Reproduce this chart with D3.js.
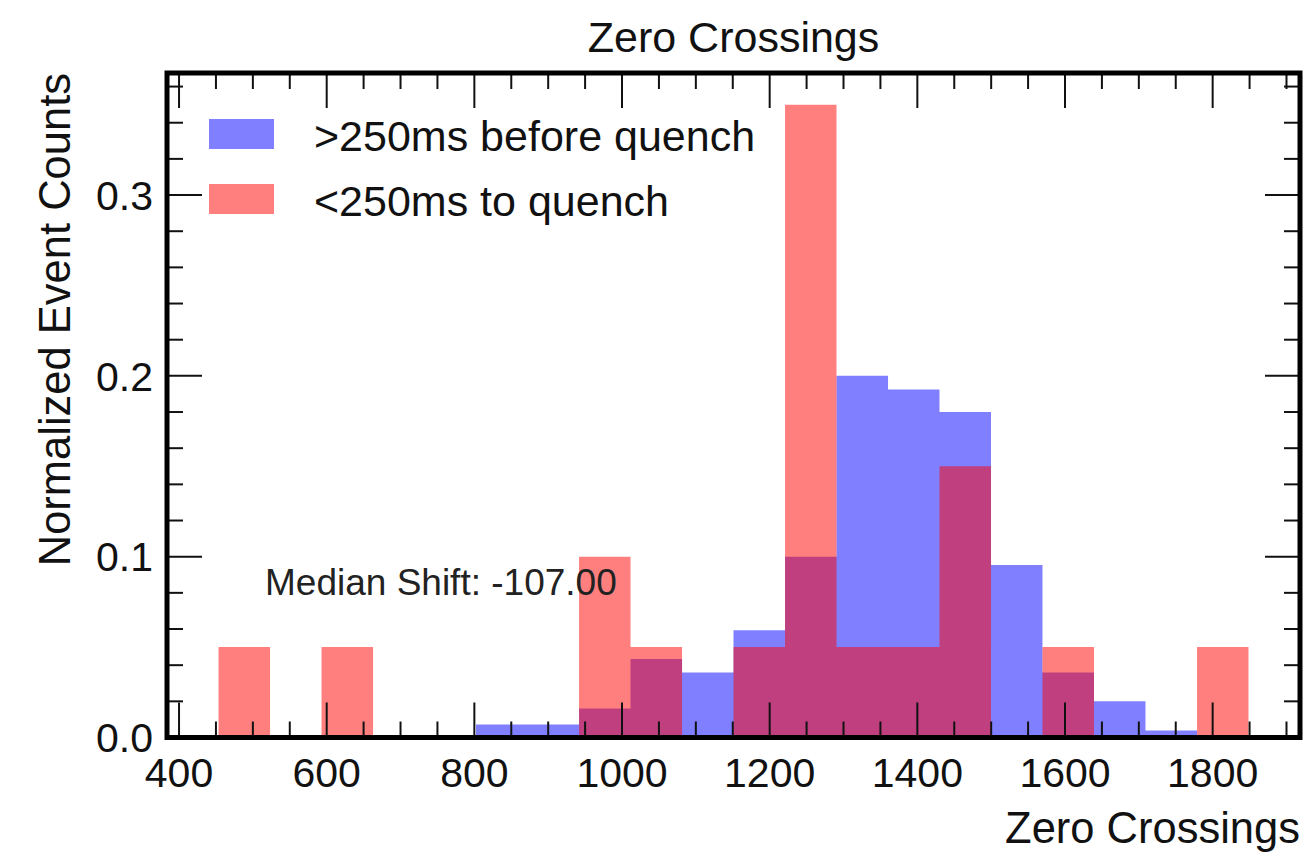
<!DOCTYPE html>
<html>
<head>
<meta charset="utf-8">
<script src="https://cdn.jsdelivr.net/npm/d3@7"></script>
<style>
  html, body { margin: 0; padding: 0; background: #fff; }
  svg { display: block; font-family: "Liberation Sans", Arial, Helvetica, sans-serif; }
</style>
</head>
<body>
<svg id="chart" width="1311" height="856"></svg>
<script>
// ---- data ----
const binEdges = [453.5, 523.3, 593, 662.8, 732.5, 802.3, 872, 941.8, 1011.5, 1081.3, 1151,
                  1220.8, 1290.5, 1360.3, 1430, 1499.8, 1569.5, 1639.3, 1709, 1778.8, 1848.5];
const blueValues = [0, 0, 0, 0, 0, 0.0072, 0.0072, 0.016, 0.0434, 0.036, 0.0593,
                    0.1, 0.2, 0.1925, 0.18, 0.0954, 0.036, 0.02, 0.0039, 0];
const redValues  = [0.05, 0, 0.05, 0, 0, 0, 0, 0.1, 0.05, 0, 0.05,
                    0.35, 0.05, 0.05, 0.15, 0, 0.05, 0, 0, 0.05];
const seriesNames = [">250ms before quench", "<250ms to quench"];
const xMajorTicks = [400, 600, 800, 1000, 1200, 1400, 1600, 1800];
const yMajorTicks = [0.0, 0.1, 0.2, 0.3];
const xDomain = [383.7, 1918.3];
const yDomain = [0, 0.3675];
const titleText = "Zero Crossings";
const xLabel = "Zero Crossings";
const yLabel = "Normalized Event Counts";
const annotation = "Median Shift: -107.00";

// ---- layout ----
const L = 167, R = 1300, T = 73, B = 737.5;
const svg = d3.select("#chart");
const x = d3.scaleLinear().domain(xDomain).range([L, R]);
const y = d3.scaleLinear().domain(yDomain).range([B, T]);

const blueFill = "rgba(0,0,255,0.5)";
const redFill = "rgba(255,0,0,0.5)";

// each series as one path of bin rectangles (no seams between adjacent bins)
function bars(values, fill) {
  const p = d3.path();
  values.forEach((v, i) => {
    if (v > 0) {
      const x0 = x(binEdges[i]), x1 = x(binEdges[i + 1]);
      p.rect(x0, y(v), x1 - x0, y(0) - y(v));
    }
  });
  svg.append("path").attr("d", p.toString()).attr("fill", fill);
}
bars(blueValues, blueFill);
bars(redValues, redFill);

// annotation
svg.append("text").attr("x", 265).attr("y", 595)
  .attr("font-size", 37).attr("fill", "#222").text(annotation);

// ---- ticks (inward, all four sides) ----
const majLen = 35, minLen = 16;
const xMinor = d3.range(400, 1901, 50).filter(v => !xMajorTicks.includes(v) && v > xDomain[0] && v < xDomain[1]);
const yMinor = d3.range(0, 37).map(i => +(i * 0.01).toFixed(2)).filter(v => (Math.round(v * 100) % 2 === 0) && (Math.round(v * 100) % 10 !== 0) && v < yDomain[1]);

const tg = svg.append("g").attr("stroke", "#111").attr("stroke-width", 2);
function xTicks(vals, len) {
  vals.forEach(v => {
    tg.append("line").attr("x1", x(v)).attr("x2", x(v)).attr("y1", B).attr("y2", B - len);
    tg.append("line").attr("x1", x(v)).attr("x2", x(v)).attr("y1", T).attr("y2", T + len);
  });
}
function yTicks(vals, len) {
  vals.forEach(v => {
    tg.append("line").attr("y1", y(v)).attr("y2", y(v)).attr("x1", L).attr("x2", L + len);
    tg.append("line").attr("y1", y(v)).attr("y2", y(v)).attr("x1", R).attr("x2", R - len);
  });
}
xTicks(xMajorTicks, majLen);
xTicks(xMinor, minLen);
yTicks(yMajorTicks, majLen);
yTicks(yMinor, minLen);

// frame
svg.append("rect").attr("x", L).attr("y", T).attr("width", R - L).attr("height", B - T)
  .attr("fill", "none").attr("stroke", "#000").attr("stroke-width", 5);

// tick labels
svg.append("g").selectAll("text").data(xMajorTicks).join("text")
  .attr("x", d => x(d)).attr("y", 787).attr("text-anchor", "middle")
  .attr("font-size", 41).attr("fill", "#111").text(d => d);
svg.append("g").selectAll("text").data(yMajorTicks).join("text")
  .attr("x", 153).attr("y", d => y(d)).attr("dy", "0.36em").attr("text-anchor", "end")
  .attr("font-size", 41).attr("fill", "#111").text(d => d.toFixed(1));

// titles
svg.append("text").attr("x", (L + R) / 2).attr("y", 52).attr("text-anchor", "middle")
  .attr("font-size", 43).attr("fill", "#111").text(titleText);
svg.append("text").attr("x", R).attr("y", 843).attr("text-anchor", "end")
  .attr("font-size", 43.5).attr("fill", "#111").text(xLabel);
svg.append("text").attr("transform", `translate(70,${T}) rotate(-90)`).attr("text-anchor", "end")
  .attr("font-size", 43.5).attr("fill", "#111").text(yLabel);

// legend
const legend = [
  {name: seriesNames[0], fill: blueFill, y: 119},
  {name: seriesNames[1], fill: redFill, y: 184}
];
const lg = svg.append("g");
legend.forEach(d => {
  lg.append("rect").attr("x", 209).attr("y", d.y).attr("width", 65).attr("height", 30).attr("fill", d.fill);
  lg.append("text").attr("x", 314).attr("y", d.y + 32).attr("font-size", 43).attr("fill", "#111").text(d.name);
});
</script>
</body>
</html>
